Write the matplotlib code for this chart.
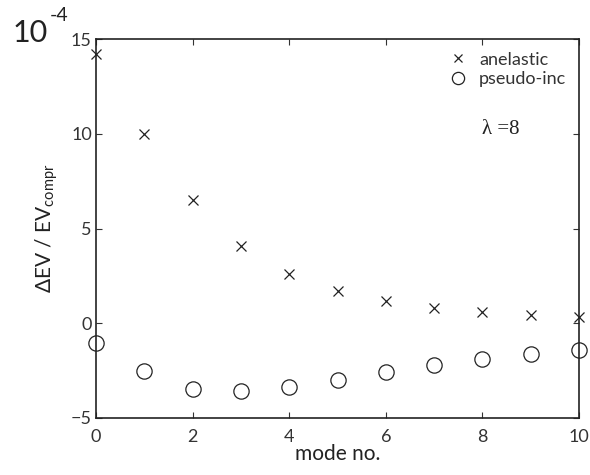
import matplotlib
matplotlib.use('Agg')
import matplotlib.pyplot as plt

plt.rcParams['font.family'] = ['Lato', 'DejaVu Sans']
plt.rcParams['mathtext.fontset'] = 'custom'
plt.rcParams['mathtext.rm'] = 'Lato'
plt.rcParams['mathtext.default'] = 'regular'

# mode number and relative eigenvalue difference (units of 1e-4)
mode = [0, 1, 2, 3, 4, 5, 6, 7, 8, 9, 10]
anelastic = [14.2, 10.0, 6.5, 4.1, 2.6, 1.7, 1.15, 0.8, 0.6, 0.45, 0.35]
pseudo_inc = [-1.03, -2.5, -3.45, -3.6, -3.35, -2.97, -2.57, -2.2, -1.9, -1.64, -1.42]

xticks = [0, 2, 4, 6, 8, 10]
yticks = [-5, 0, 5, 10, 15]

W, H = 590, 475
fig = plt.figure(figsize=(W / 100, H / 100), dpi=100)
ax = fig.add_axes([96 / W, 1 - 418 / H, (579 - 96) / W, (418 - 39) / H])

ax.plot(mode, anelastic, 'x', color='#222222', markersize=7, markeredgewidth=0.9,
        label='anelastic', clip_on=False)
ax.plot(mode, pseudo_inc, 'o', color='#222222', markerfacecolor='none', markersize=11,
        markeredgewidth=0.9, label='pseudo-inc', clip_on=False)

ax.set_xlim(0, 10)
ax.set_ylim(-5, 15)
ax.set_xticks(xticks)
ax.set_yticks(yticks)
ax.tick_params(direction='in', top=True, right=True, labelsize=13, length=4, width=0.8,
               colors='#333333')
ax.tick_params(axis='x', pad=8)
ax.tick_params(axis='y', pad=3)
for s in ax.spines.values():
    s.set_linewidth(1.2)
    s.set_color('#222222')

ax.set_xlabel('mode no.', fontsize=15, labelpad=-1, color='#222222')
ax.set_ylabel('ΔEV / EV$_{compr}$', fontsize=15, labelpad=8, color='#222222')

fig.text(13 / W, 1 - 42 / H, '10', fontsize=22, color='#222222')
fig.text(50 / W, 1 - 21 / H, '-4', fontsize=14, color='#222222')
ax.text(8.0, 10.2, 'λ =8', fontsize=15, family=['Liberation Serif', 'DejaVu Serif'],
        va='center', color='#222222')

ax.legend(loc='upper right', frameon=False, fontsize=13, handletextpad=0.5,
          labelspacing=0.2, borderaxespad=0.3, handlelength=1.3, markerscale=0.8,
          labelcolor='#333333')

fig.savefig('out.png', dpi=100)
